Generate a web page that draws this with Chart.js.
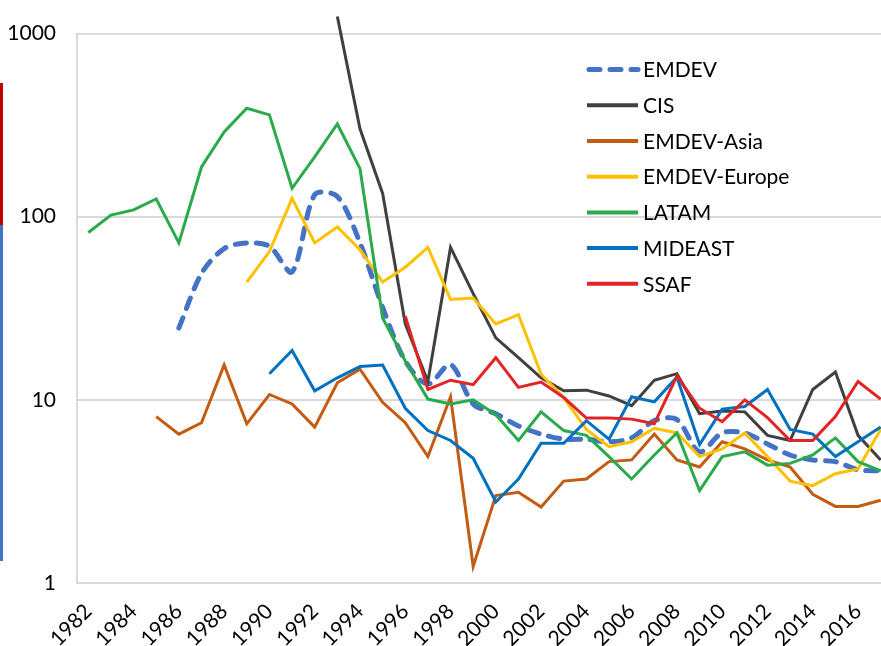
<!DOCTYPE html>
<html>
<head>
<meta charset="utf-8">
<script src="https://cdn.jsdelivr.net/npm/chart.js@4.4.1/dist/chart.umd.min.js"></script>
<style>
html, body { margin: 0; padding: 0; background: #fff; overflow: hidden; }
#wrap { position: relative; width: 881px; height: 646px; overflow: hidden; }
#chart { position: absolute; left: 0; top: 0; }
.edge { position: absolute; left: 0; width: 3px; }
</style>
</head>
<body>
<div id="wrap">
  <div class="edge" style="top:83px;height:142px;background:#C00000"></div>
  <div class="edge" style="top:225px;height:336px;background:#4472C4"></div>
  <canvas id="chart" width="892" height="646"></canvas>
</div>
<script>
// categories
const years = ['1982','1983','1984','1985','1986','1987','1988','1989','1990','1991',
  '1992','1993','1994','1995','1996','1997','1998','1999','2000','2001',
  '2002','2003','2004','2005','2006','2007','2008','2009','2010','2011',
  '2012','2013','2014','2015','2016','2017'];
const yTicks = [1, 10, 100, 1000];

// series (log scale)
const emdev = [null,null,null,null,24.7,49,67,72,69,50,132,129,72,32,16.3,12.2,15.6,9.5,8.4,7.2,
  6.5,6.1,6.1,5.9,6.2,7.7,7.8,5.2,6.6,6.6,5.75,5.0,4.7,4.6,4.15,4.1];
const cis = [null,null,null,null,null,null,null,null,null,null,null,1240,302,134,26,12.6,68,38,21.8,17,
  13.2,11.2,11.3,10.5,9.3,12.8,13.9,8.4,8.7,8.6,6.4,6.0,11.4,14.2,6.4,4.7];
const asia = [null,null,null,8.1,6.5,7.5,15.5,7.4,10.7,9.5,7.1,12.4,14.7,9.7,7.5,4.9,10.4,1.23,3.0,3.13,
  2.6,3.6,3.7,4.6,4.7,6.5,4.7,4.3,5.9,5.4,4.7,4.3,3.05,2.62,2.62,2.83];
const europe = [null,null,null,null,null,null,null,44,64.5,126,72,88,66,44,53,68,35.3,36,26,29.2,
  13.8,10.3,6.9,5.55,5.9,7.0,6.6,4.9,5.4,6.6,4.9,3.6,3.4,3.95,4.2,6.9];
const latam = [82,102,109,125,72,187,290,391,360,143,212,321,183,28,16.3,10.1,9.5,10,8.3,6.0,
  8.6,6.8,6.4,4.9,3.7,5.0,6.6,3.2,4.9,5.2,4.4,4.5,5.0,6.2,4.6,4.1];
const mideast = [null,null,null,null,null,null,null,null,13.9,18.6,11.2,13.2,15.2,15.5,9,6.8,6.0,4.8,2.77,3.7,
  5.8,5.8,7.7,6.1,10.4,9.75,13.3,5.7,8.9,9.2,11.4,6.9,6.5,4.9,5.9,7.1];
const ssaf = [null,null,null,null,null,null,null,null,null,null,null,null,null,null,28.6,11.4,12.8,12.1,17,11.7,
  12.5,10.3,7.95,7.95,7.85,7.4,13.5,9.0,7.6,10,8,6.0,6.0,8.1,12.6,10.1];

const seriesNames = ['EMDEV','CIS','EMDEV-Asia','EMDEV-Europe','LATAM','MIDEAST','SSAF'];
const seriesData = [emdev, cis, asia, europe, latam, mideast, ssaf];
const seriesColors = ['#4472C4','#404040','#C55A11','#FFC000','#2AAA4A','#0070C0','#E32424'];

const FONT = 'Lato, "Open Sans", sans-serif';

const datasets = seriesData.map((d, i) => ({
  label: seriesNames[i],
  data: d,
  borderColor: seriesColors[i],
  backgroundColor: seriesColors[i],
  borderWidth: i === 0 ? 5 : 3,
  borderDash: i === 0 ? [11, 10] : undefined,
  borderCapStyle: i === 0 ? 'round' : 'butt',
  tension: i === 0 ? 0.3 : 0,
  pointRadius: 0,
  fill: false,
  clip: false,
  order: seriesNames.length - i
}));

// legend drawn inside the plot, top right
const insideLegend = {
  id: 'insideLegend',
  afterDatasetsDraw(chart) {
    const ctx = chart.ctx;
    const x = chart.chartArea.left + 510;
    let y = chart.chartArea.top + 36;
    ctx.save();
    ctx.font = '21px ' + FONT;
    ctx.textBaseline = 'middle';
    ctx.fillStyle = '#000';
    chart.data.datasets.forEach(ds => {
      ctx.beginPath();
      ctx.strokeStyle = ds.borderColor;
      ctx.lineWidth = ds.borderDash ? 5 : 4;
      ctx.lineCap = ds.borderDash ? 'round' : 'butt';
      ctx.setLineDash(ds.borderDash || []);
      ctx.moveTo(ds.borderDash ? x + 2 : x, y);
      ctx.lineTo(x + 51, y);
      ctx.stroke();
      ctx.setLineDash([]);
      ctx.fillText(ds.label, x + 56, y + 1);
      y += 35.7;
    });
    ctx.restore();
  }
};

new Chart(document.getElementById('chart'), {
  type: 'line',
  data: { labels: years, datasets: datasets },
  options: {
    responsive: false,
    animation: false,
    layout: { padding: { top: 31, right: 0, left: 0, bottom: 0 } },
    plugins: { legend: { display: false }, tooltip: { enabled: false } },
    scales: {
      x: {
        offset: true,
        grid: { display: false, drawTicks: false },
        border: { display: true, color: '#D9D9D9', width: 2 },
        afterFit: scale => {
          scale.height = 63;
          scale.paddingLeft = 0;
          scale.paddingRight = 0;
        },
        ticks: {
          autoSkip: false,
          maxRotation: 45,
          minRotation: 45,
          padding: 16,
          color: '#000',
          font: { family: FONT, size: 21 },
          callback: (v, i) => (i % 2 === 0 ? years[i] : '')
        }
      },
      y: {
        type: 'logarithmic',
        min: 1,
        max: 1000,
        afterBuildTicks: scale => { scale.ticks = yTicks.map(v => ({ value: v })); },
        afterFit: scale => { scale.width = 77; },
        grid: { color: '#D9D9D9', lineWidth: 2, drawTicks: false },
        border: { display: true, color: '#D9D9D9', width: 2 },
        ticks: {
          padding: 21,
          color: '#000',
          font: { family: FONT, size: 21 },
          callback: v => String(v)
        }
      }
    }
  },
  plugins: [insideLegend]
});
</script>
</body>
</html>
